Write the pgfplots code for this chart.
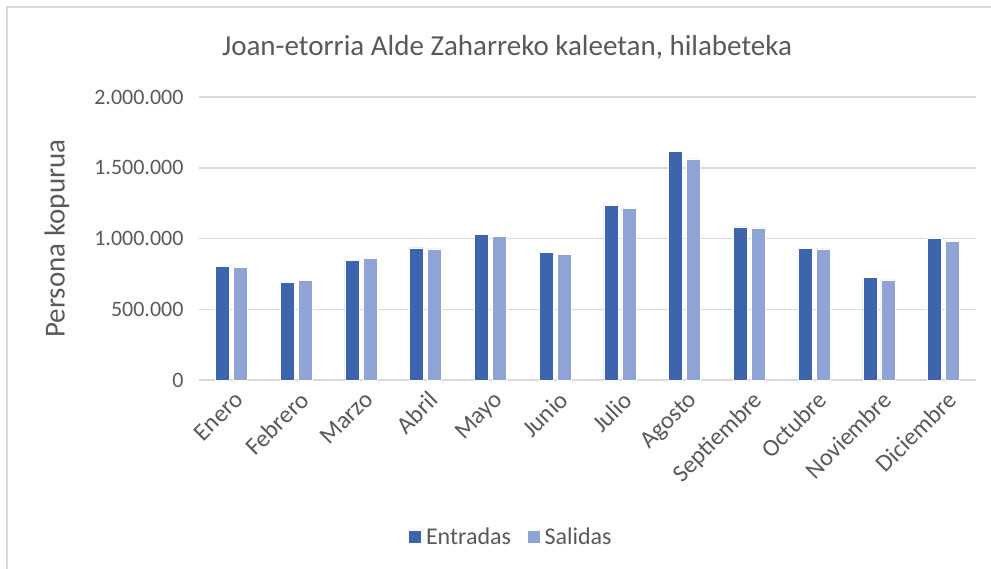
\documentclass[border=0pt]{standalone}
\usepackage{pgfplots}
\pgfplotsset{compat=1.18}
\usepackage{fontspec}
\setmainfont{Carlito}
\definecolor{entr}{RGB}{61,101,173}
\definecolor{sal}{RGB}{143,164,212}
\definecolor{txt}{RGB}{89,89,89}
\definecolor{grd}{RGB}{217,217,217}
\begin{document}
\begin{tikzpicture}[x=1bp,y=1bp]
\path[use as bounding box] (0,0) rectangle (991,-569);
\draw[grd, line width=1.5bp] (7,-569) -- (7,-7) -- (991,-7);
\node[text=txt, font=\fontsize{29bp}{34bp}\selectfont] at (507,-47) {Joan-etorria Alde Zaharreko kaleetan, hilabeteka};
\begin{axis}[
  at={(199bp,-380bp)}, anchor=south west,
  scale only axis, width=777bp, height=283bp,
  xmin=-0.5, xmax=11.5, ymin=0, ymax=2000000,
  xtick={0,...,11},
  xticklabels={Enero,Febrero,Marzo,Abril,Mayo,Junio,Julio,Agosto,Septiembre,Octubre,Noviembre,Diciembre},
  ytick={0,500000,1000000,1500000,2000000},
  scaled y ticks=false,
  /pgf/number format/fixed,
  /pgf/number format/1000 sep={.},
  /pgf/number format/assume math mode=true,
  ymajorgrids, grid style={grd, line width=1.5bp},
  axis line style={draw=none}, major tick length=0pt,
  tick label style={text=txt},
  yticklabel style={xshift=-12bp, font=\fontsize{22bp}{26bp}\selectfont},
  xticklabel style={rotate=45, anchor=north east, xshift=-2bp, yshift=-5bp, font=\fontsize{24.5bp}{28bp}\selectfont},
  ylabel={Persona kopurua},
  ylabel style={text=txt, font=\fontsize{29bp}{34bp}\selectfont, at={(rel axis cs:0,0.5)}, anchor=center, rotate=0, yshift=142bp},
  ybar, bar width=14bp,
  legend columns=2,
  legend style={draw=none, at={(0.4016,-0.5548)}, anchor=center, font=\fontsize{24bp}{28bp}\selectfont, text=txt,
    /tikz/every odd column/.append style={column sep=2bp},
    /tikz/every even column/.append style={column sep=14bp}},
  legend image code/.code={\fill[#1] (0bp,-6.5bp) rectangle (13bp,6.5bp);},
]
\addplot[fill=entr, draw=white, line width=0.6bp, bar shift=-9bp] coordinates {
(0,803000) (1,690000) (2,848000) (3,934000) (4,1028000) (5,904000)
(6,1235000) (7,1617000) (8,1082000) (9,930000) (10,723000) (11,1003000)};
\addplot[fill=sal, draw=white, line width=0.6bp, bar shift=9bp] coordinates {
(0,796000) (1,704000) (2,857000) (3,927000) (4,1017000) (5,887000)
(6,1214000) (7,1563000) (8,1075000) (9,927000) (10,707000) (11,979000)};
\legend{Entradas, Salidas}
\end{axis}
\end{tikzpicture}
\end{document}
